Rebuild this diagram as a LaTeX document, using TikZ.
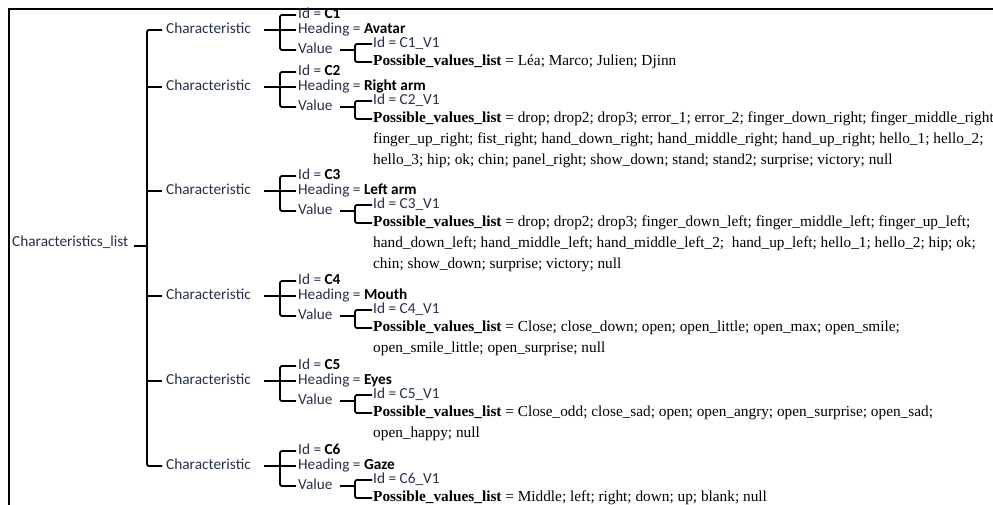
\documentclass[tikz,border=0pt]{standalone}
\usepackage{fontspec}
\setmainfont{Liberation Serif}
\setsansfont{Carlito}
\definecolor{txt}{RGB}{38,48,72}
\begin{document}
\begin{tikzpicture}[x=1pt,y=-1pt,
  sans/.style={font=\sffamily\fontsize{15.3}{18}\selectfont, text=txt, anchor=west, inner sep=0pt, text height=10.5pt, text depth=3pt},
  serif/.style={font=\rmfamily\fontsize{15.3}{18}\selectfont, text=black, anchor=west, inner sep=0pt, text height=10.5pt, text depth=3pt},
  br/.style={line width=1.8pt, rounded corners=2pt},
  frame/.style={line width=1.3pt}]
\useasboundingbox (0,0) rectangle (993,505);
\clip (0,0) rectangle (993,505);
\draw[frame] (9,505) -- (9,9) -- (993,9);

% root
\node[sans] (root) at (12,243) {Characteristics\_list};
\coordinate (mt) at (147,30);
\coordinate (mb) at (147,466);
\coordinate (mr) at (147,246);
\draw[br] ([xshift=5,yshift=-3]root.east) -- (mr);

% characteristic labels
\node[sans] (ch1) at (166,30)  {Characteristic};
\node[sans] (ch2) at (166,87)  {Characteristic};
\node[sans] (ch3) at (166,191) {Characteristic};
\node[sans] (ch4) at (166,296) {Characteristic};
\node[sans] (ch5) at (166,381) {Characteristic};
\node[sans] (ch6) at (166,466) {Characteristic};

\draw[br] ([xshift=-4]ch1.west) -- (mt) -- (mb) -- ([xshift=-4]ch6.west);
\coordinate (m2) at (147,87);
\coordinate (m3) at (147,191);
\coordinate (m4) at (147,296);
\coordinate (m5) at (147,381);
\draw[br] (m2) -- ([xshift=-4]ch2.west);
\draw[br] (m3) -- ([xshift=-4]ch3.west);
\draw[br] (m4) -- ([xshift=-4]ch4.west);
\draw[br] (m5) -- ([xshift=-4]ch5.west);

% ---------- C1 (h = 30)
\node[sans] (id1) at (298,15) {Id = \textbf{\color{black}C1}};
\node[sans] (hd1) at (298,30) {Heading = \textbf{\color{black}Avatar}};
\node[sans] (va1) at (298,50) {Value};
\node[sans] (iv1) at (373,44) {Id = C1\_V1};
\node[serif] (pv1) at (373,62) {\textbf{Possible\_values\_list} = Léa; Marco; Julien; Djinn};
\coordinate (bt1) at (280,15); \coordinate (bb1) at (280,50);
\coordinate (vt1) at (355,44); \coordinate (vb1) at (355,62); \coordinate (vm1) at (355,50);

% ---------- C2 (h = 87)
\node[sans] (id2) at (298,72) {Id = \textbf{\color{black}C2}};
\node[sans] (hd2) at (298,87) {Heading = \textbf{\color{black}Right arm}};
\node[sans] (va2) at (298,107) {Value};
\node[sans] (iv2) at (373,101) {Id = C2\_V1};
\node[serif] (pv2) at (373,119) {\textbf{Possible\_values\_list} = drop; drop2; drop3; error\_1; error\_2; finger\_down\_right; finger\_middle\_right};
\node[serif] (pv2b) at (373,140) {finger\_up\_right; fist\_right; hand\_down\_right; hand\_middle\_right; hand\_up\_right; hello\_1; hello\_2;};
\node[serif] (pv2c) at (373,161) {hello\_3; hip; ok; chin; panel\_right; show\_down; stand; stand2; surprise; victory; null};
\coordinate (bt2) at (280,72); \coordinate (bb2) at (280,107);
\coordinate (vt2) at (355,101); \coordinate (vb2) at (355,119); \coordinate (vm2) at (355,107);

% ---------- C3 (h = 191)
\node[sans] (id3) at (298,176) {Id = \textbf{\color{black}C3}};
\node[sans] (hd3) at (298,191) {Heading = \textbf{\color{black}Left arm}};
\node[sans] (va3) at (298,211) {Value};
\node[sans] (iv3) at (373,205) {Id = C3\_V1};
\node[serif] (pv3) at (373,223) {\textbf{Possible\_values\_list} = drop; drop2; drop3; finger\_down\_left; finger\_middle\_left; finger\_up\_left;};
\node[serif] (pv3b) at (373,244) {hand\_down\_left; hand\_middle\_left; hand\_middle\_left\_2; \ hand\_up\_left; hello\_1; hello\_2; hip; ok;};
\node[serif] (pv3c) at (373,265) {chin; show\_down; surprise; victory; null};
\coordinate (bt3) at (280,176); \coordinate (bb3) at (280,211);
\coordinate (vt3) at (355,205); \coordinate (vb3) at (355,223); \coordinate (vm3) at (355,211);

% ---------- C4 (h = 296)
\node[sans] (id4) at (298,281) {Id = \textbf{\color{black}C4}};
\node[sans] (hd4) at (298,296) {Heading = \textbf{\color{black}Mouth}};
\node[sans] (va4) at (298,316) {Value};
\node[sans] (iv4) at (373,310) {Id = C4\_V1};
\node[serif] (pv4) at (373,328) {\textbf{Possible\_values\_list} = Close; close\_down; open; open\_little; open\_max; open\_smile;};
\node[serif] (pv4b) at (373,349) {open\_smile\_little; open\_surprise; null};
\coordinate (bt4) at (280,281); \coordinate (bb4) at (280,316);
\coordinate (vt4) at (355,310); \coordinate (vb4) at (355,328); \coordinate (vm4) at (355,316);

% ---------- C5 (h = 381)
\node[sans] (id5) at (298,366) {Id = \textbf{\color{black}C5}};
\node[sans] (hd5) at (298,381) {Heading = \textbf{\color{black}Eyes}};
\node[sans] (va5) at (298,401) {Value};
\node[sans] (iv5) at (373,395) {Id = C5\_V1};
\node[serif] (pv5) at (373,413) {\textbf{Possible\_values\_list} = Close\_odd; close\_sad; open; open\_angry; open\_surprise; open\_sad;};
\node[serif] (pv5b) at (373,434) {open\_happy; null};
\coordinate (bt5) at (280,366); \coordinate (bb5) at (280,401);
\coordinate (vt5) at (355,395); \coordinate (vb5) at (355,413); \coordinate (vm5) at (355,401);

% ---------- C6 (h = 466)
\node[sans] (id6) at (298,451) {Id = \textbf{\color{black}C6}};
\node[sans] (hd6) at (298,466) {Heading = \textbf{\color{black}Gaze}};
\node[sans] (va6) at (298,486) {Value};
\node[sans] (iv6) at (373,480) {Id = C6\_V1};
\node[serif] (pv6) at (373,498) {\textbf{Possible\_values\_list} = Middle; left; right; down; up; blank; null};
\coordinate (bt6) at (280,451); \coordinate (bb6) at (280,486);
\coordinate (vt6) at (355,480); \coordinate (vb6) at (355,498); \coordinate (vm6) at (355,486);

% brackets
\foreach \k in {1,...,6}{
  \draw[br] ([xshift=-2]id\k.west) -- (bt\k) -- (bb\k) -- ([xshift=-2]va\k.west);
  \draw[br] ([xshift=13]ch\k.east) -- ([xshift=-2]hd\k.west);
  \draw[br] ([xshift=-1]iv\k.west) -- (vt\k) -- (vb\k) -- ([xshift=-1]pv\k.west);
  \draw[br] ([xshift=7]va\k.east) -- (vm\k);
}
\end{tikzpicture}
\end{document}
